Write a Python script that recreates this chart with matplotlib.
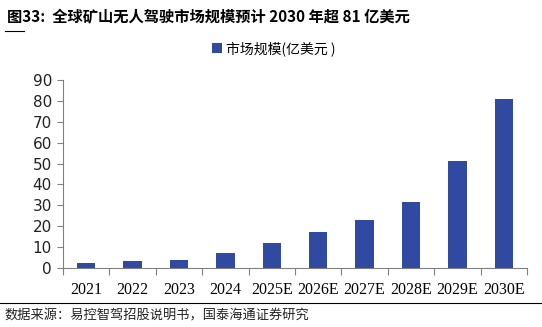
import matplotlib
matplotlib.use("Agg")
import matplotlib.pyplot as plt
from matplotlib.lines import Line2D

years = ['2021', '2022', '2023', '2024', '2025E', '2026E', '2027E', '2028E', '2029E', '2030E']
market = [2.2, 3.2, 3.8, 7.0, 12.0, 17.0, 23.0, 31.8, 51.3, 81.0]

cjk = ['Noto Sans CJK SC', 'DejaVu Sans']
bar_color = '#2f4aa0'
axis_color = '#808080'

fig = plt.figure(figsize=(5.42, 3.27), dpi=100)
ax = fig.add_axes([63 / 542, 1 - 268 / 327, (527 - 63) / 542, (268 - 80) / 327])

x = range(len(years))
ax.bar(x, market, width=0.4, color=bar_color, label='市场规模(亿美元 )', zorder=3)

ax.set_xlim(-0.5, len(years) - 0.5)
ax.set_ylim(0, 90)
ax.set_yticks(range(0, 91, 10))
# category boundaries as major ticks, labels on minor ticks at bar centres
ax.set_xticks([i - 0.5 for i in range(len(years) + 1)])
ax.set_xticklabels([])
ax.set_xticks(list(x), minor=True)
ax.set_xticklabels(years, minor=True, fontfamily='Liberation Serif', fontsize=11.5)
ax.tick_params(axis='x', which='minor', length=0, pad=10)
ax.tick_params(axis='x', which='major', direction='out', length=5, color=axis_color)
ax.tick_params(axis='y', length=4, color=axis_color, labelsize=11, pad=4)
for lab in ax.get_yticklabels():
    lab.set_fontfamily('DejaVu Sans')
    lab.set_color('#222222')

for s in ['top', 'right']:
    ax.spines[s].set_visible(False)
ax.spines['left'].set_color(axis_color)
ax.spines['bottom'].set_color(axis_color)

ax.legend(loc='lower center', bbox_to_anchor=(0.455, 1.06), frameon=False,
          prop={'family': cjk, 'size': 10}, handlelength=0.7, handleheight=0.7,
          handletextpad=0.3)

fig.text(0.012, 0.947, '图33:  全球矿山无人驾驶市场规模预计 2030 年超 81 亿美元',
         fontfamily=cjk, fontsize=11, fontweight='bold', va='center', ha='left')
fig.add_artist(Line2D([5 / 542, 24 / 542], [1 - 31 / 327] * 2, color='black', lw=0.8))
fig.add_artist(Line2D([0, 1], [1 - 303 / 327] * 2, color='black', lw=0.8))
fig.text(0.008, 1 - 316 / 327, '数据来源：易控智驾招股说明书，国泰海通证券研究',
         fontfamily=cjk, fontsize=9.5, va='center', ha='left', color='#222222')

fig.savefig('out.png', dpi=100)
